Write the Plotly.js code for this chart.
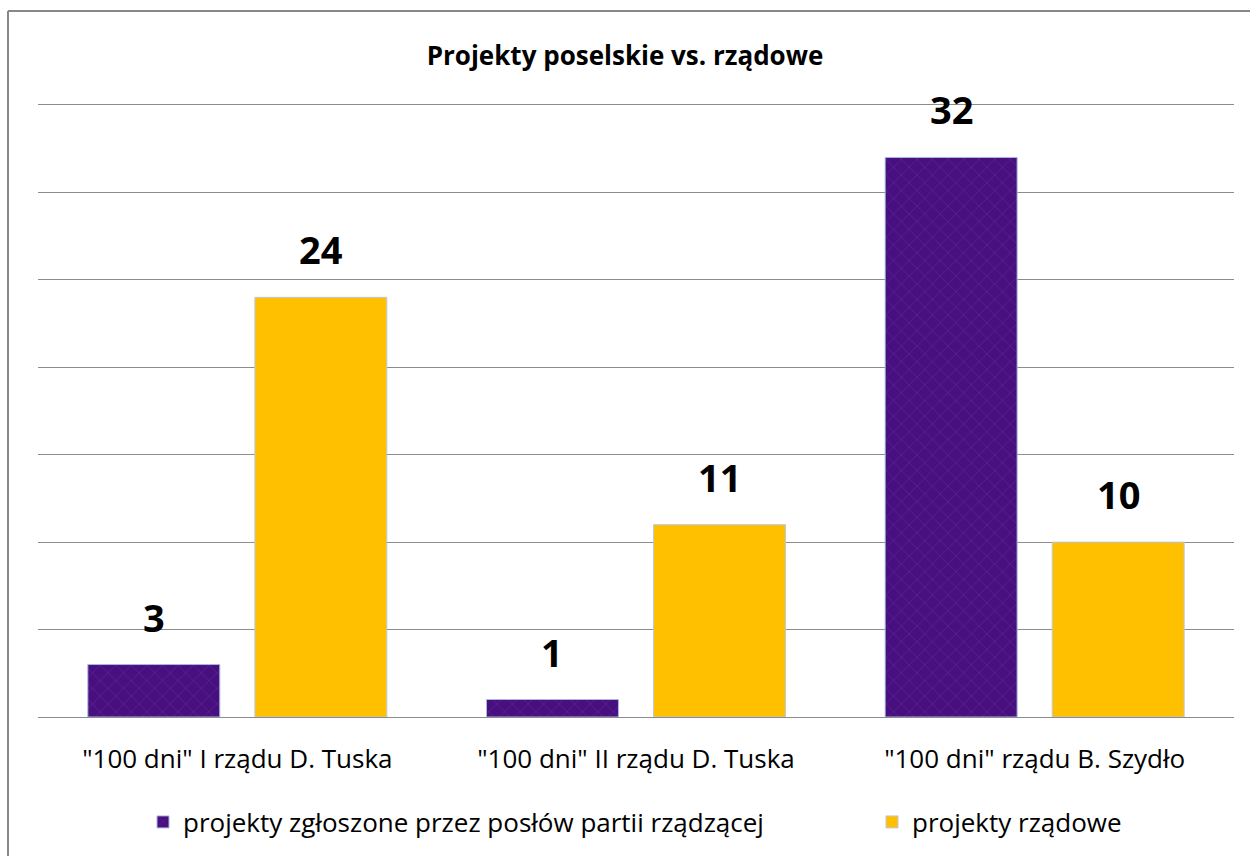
<!DOCTYPE html>
<html>
<head>
<meta charset="utf-8">
<script src="https://cdn.plot.ly/plotly-3.0.1.min.js"></script>
<style>
html,body{margin:0;padding:0;background:#fff;}
#chart{width:1250px;height:856px;}
</style>
</head>
<body>
<div id="chart"></div>
<script>
const categories = ['"100 dni" I rządu D. Tuska', '"100 dni" II rządu D. Tuska', '"100 dni" rządu B. Szydło'];
const seriesNames = ['projekty zgłoszone przez posłów partii rządzącej', 'projekty rządowe'];
const poselskie = [3, 1, 32];
const rzadowe = [24, 11, 10];
const chartTitle = 'Projekty poselskie vs. rządowe';

const FONT = '"Open Sans", Lato, sans-serif';
const bargap = 0.162;
const bargroupgap = 0.21;

const traces = [
  {type:'bar', name:seriesNames[0], x:categories, y:poselskie, legend:'legend',
   marker:{color:'#4a1183', line:{color:'#a9b8e0', width:1},
     pattern:{shape:'x', fgcolor:'#6526a3', bgcolor:'#47107e', size:11, solidity:0.1}},
   hoverinfo:'skip'},
  {type:'bar', name:seriesNames[1], x:categories, y:rzadowe, legend:'legend2',
   marker:{color:'#ffc000', line:{color:'#bcc8e4', width:1}},
   hoverinfo:'skip'}
];

// labels above bars, positioned from the data
const off = (1 - bargap) / 4;
const annotations = [];
[poselskie, rzadowe].forEach((arr, s) => {
  arr.forEach((v, i) => {
    annotations.push({x: i + (s === 0 ? -off : off), y: v, xref:'x', yref:'y',
      text:'<b>' + v + '</b>', showarrow:false, yanchor:'bottom', yshift:20,
      font:{family:FONT, size:38, color:'#000'}});
  });
});

const legendCommon = {orientation:'h', yref:'container', y:1-822/856, yanchor:'middle', xref:'container',
  xanchor:'left', font:{family:FONT, size:26, color:'#000'}, itemwidth:30, bgcolor:'rgba(0,0,0,0)'};

const layout = {
  width:1250, height:856,
  margin:{l:38, r:16, t:105, b:139, autoexpand:false},
  paper_bgcolor:'#fff', plot_bgcolor:'#fff',
  title:{text:'<b>' + chartTitle + '</b>', x:0.5, xanchor:'center', yref:'container', y:1-56/856, yanchor:'middle',
    font:{family:FONT, size:26, color:'#000'}},
  barmode:'group', bargap:bargap, bargroupgap:bargroupgap,
  xaxis:{type:'category', showgrid:false, zeroline:false, showline:true, mirror:true, linecolor:'#8c8c8c', linewidth:1, ticks:'',
    tickfont:{family:FONT, size:26, color:'#000'}, ticklabelstandoff:19},
  yaxis:{range:[0,35], dtick:5, showticklabels:false, showgrid:true, gridcolor:'#8c8c8c', gridwidth:1,
    zeroline:true, zerolinecolor:'#8c8c8c', zerolinewidth:1, ticks:''},
  showlegend:true,
  legend:Object.assign({}, legendCommon, {x:143/1250}),
  legend2:Object.assign({}, legendCommon, {x:872/1250}),
  annotations:annotations,
  shapes:[
    {type:'line', xref:'paper', yref:'paper', x0:-30/1196, x1:1250/1196, y0:1+(105-11)/612, y1:1+(105-11)/612, line:{color:'#888', width:2}},
    {type:'line', xref:'paper', yref:'paper', x0:-30/1196, x1:-30/1196, y0:1+(105-11)/612, y1:-(856-717)/612, line:{color:'#888', width:2}}
  ]
};

Plotly.newPlot('chart', traces, layout, {displayModeBar:false, staticPlot:true});
</script>
</body>
</html>
